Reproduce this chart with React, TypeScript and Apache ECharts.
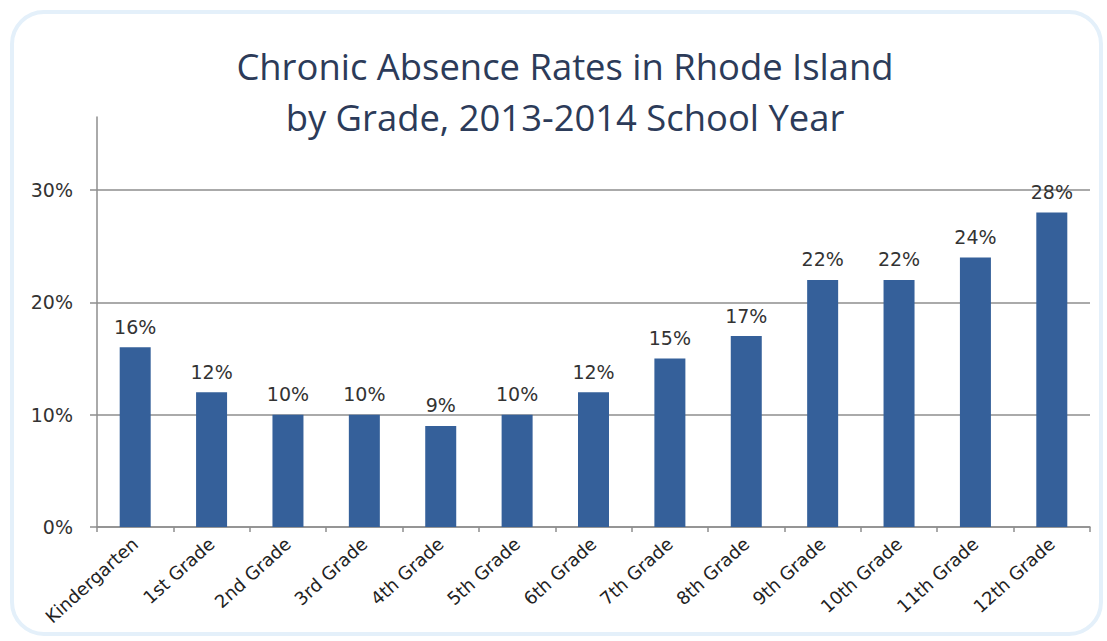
import React, { useEffect, useRef } from "react";
import * as echarts from "echarts";

const categories = [
  "Kindergarten", "1st Grade", "2nd Grade", "3rd Grade", "4th Grade", "5th Grade",
  "6th Grade", "7th Grade", "8th Grade", "9th Grade", "10th Grade", "11th Grade", "12th Grade",
];
const rates = [16, 12, 10, 10, 9, 10, 12, 15, 17, 22, 22, 24, 28];
const yTicks = [0, 10, 20, 30];
const titleLines = ["Chronic Absence Rates in Rhode Island", "by Grade, 2013-2014 School Year"];

const labelFont = "'DejaVu Sans', Verdana, sans-serif";

export default function App() {
  const ref = useRef<HTMLDivElement>(null);
  useEffect(() => {
    if (!ref.current) return;
    const chart = echarts.init(ref.current, null, { renderer: "svg" });
    chart.setOption({
      animation: false,
      backgroundColor: "#ffffff",
      graphic: [
        {
          type: "rect",
          shape: { x: 12, y: 12, width: 1089, height: 622, r: 32 },
          style: { fill: "#ffffff", stroke: "#e4f0fa", lineWidth: 4 },
          z: -10,
          silent: true,
        },
      ],
      title: {
        text: titleLines.join("\n"),
        left: 560,
        textAlign: "center",
        top: 35,
        textStyle: {
          fontFamily: "'Open Sans', sans-serif",
          fontSize: 36.4,
          fontWeight: "normal",
          color: "#2c3b59",
          lineHeight: 51,
        },
      },
      grid: { left: 97, right: 17, top: 117, bottom: 114, containLabel: false },
      xAxis: {
        type: "category",
        data: categories,
        axisLine: { show: true, lineStyle: { color: "#8e8e8e", width: 1.5 } },
        axisTick: { show: true, length: 5, lineStyle: { color: "#8e8e8e", width: 1.5 } },
        axisLabel: {
          rotate: 42,
          interval: 0,
          margin: 14,
          fontFamily: labelFont,
          fontSize: 18,
          color: "#222222",
        },
      },
      yAxis: {
        type: "value",
        min: 0,
        max: 36.5,
        interval: 10,
        axisLine: { show: true, lineStyle: { color: "#8e8e8e", width: 1.5 } },
        axisTick: {
          show: true,
          length: 7,
          customValues: yTicks,
          lineStyle: { color: "#8e8e8e", width: 1.5 },
        },
        splitLine: { show: true, lineStyle: { color: "#8e8e8e", width: 1.5 } },
        axisLabel: {
          customValues: yTicks,
          formatter: (v: number) => `${v}%`,
          margin: 24,
          fontFamily: labelFont,
          fontSize: 19,
          color: "#333333",
        },
      },
      series: [
        {
          type: "bar",
          data: rates,
          barWidth: 31,
          itemStyle: { color: "#35609a" },
          label: {
            show: true,
            position: "top",
            distance: 11,
            formatter: (p: any) => `${p.value}%`,
            fontFamily: labelFont,
            fontSize: 19,
            color: "#333333",
          },
        },
      ],
    });
    return () => chart.dispose();
  }, []);
  return (
    <div
      ref={ref}
      style={{ position: "fixed", left: 0, top: 0, width: 1107, height: 641 }}
    />
  );
}
